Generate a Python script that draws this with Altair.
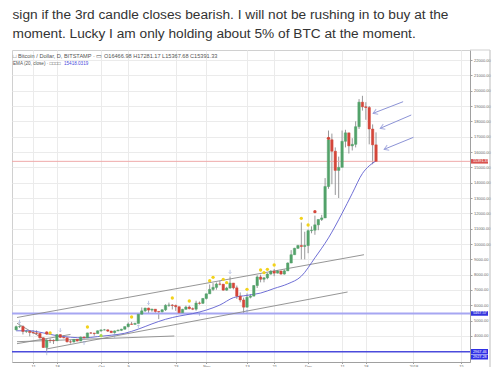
import altair as alt
import pandas as pd

# ---------------- text ----------------
tweet_lines = [
    "sign if the 3rd candle closes bearish. I will not be rushing in to buy at the",
    "moment. Lucky I am only holding about 5% of BTC at the moment.",
]
header_line = "\u25a1 Bitcoin / Dollar, D, BITSTAMP \u00b7 \u25ad  O16466.98  H17281.17  L15367.68  C15391.33"
ema_line = "EMA (20, close) \u00b7 \u25a1\u25a1\u25a1\u25a1"
ema_value_text = "15418.0319"

# ---------------- candles (Bitstamp daily) ----------------
opens_sep = [4400, 4610, 4620, 4300, 4310, 4230, 4200, 4170, 3880, 3250, 3720, 3700, 3690, 4090, 3910,
             3880, 3620, 3610, 3780, 3670, 3930, 3880, 4200, 4190, 4160]
highs_sep = [4680, 4690, 4700, 4380, 4330, 4380, 4370, 4180, 3920, 3800, 3840, 3780, 4120, 4120, 4050,
             3900, 3750, 3800, 3790, 3960, 3970, 4210, 4260, 4200, 4360]
lows_sep = [4380, 4520, 4100, 4200, 3980, 4150, 4070, 3830, 3220, 2972, 3540, 3480, 3690, 3860, 3850,
            3580, 3510, 3580, 3650, 3670, 3870, 3880, 4140, 4020, 4160]
closes_sep = [4610, 4620, 4300, 4310, 4230, 4200, 4170, 3880, 3250, 3720, 3700, 3690, 4090, 3910, 3880,
              3620, 3610, 3780, 3670, 3930, 3880, 4200, 4190, 4160, 4340]

opens_oct = [4340, 4400, 4400, 4320, 4220, 4330, 4370, 4440, 4610, 4780, 4760, 4820, 5420, 5640, 5820, 5690,
             5750, 5600, 5580, 5710, 6000, 6020, 5990, 5910, 5520, 5740, 5890, 5780, 5750, 6150, 6130]
highs_oct = [4410, 4460, 4430, 4340, 4360, 4430, 4470, 4620, 4880, 4920, 4870, 5430, 5860, 5840, 5850, 5780,
             5760, 5600, 5740, 6070, 6180, 6080, 6050, 5920, 5770, 5980, 5990, 5860, 6300, 6250, 6470]
lows_oct = [4270, 4370, 4260, 4190, 4160, 4320, 4320, 4430, 4560, 4730, 4740, 4820, 5400, 5570, 5450, 5580,
            5510, 5100, 5530, 5630, 5900, 5730, 5640, 5460, 5480, 5730, 5740, 5690, 5650, 6050, 6100]
closes_oct = [4400, 4400, 4320, 4220, 4330, 4370, 4440, 4610, 4780, 4760, 4820, 5420, 5640, 5820, 5690, 5750,
              5600, 5580, 5710, 6000, 6020, 5990, 5910, 5520, 5740, 5890, 5780, 5750, 6150, 6130, 6450]

opens_nov = [6450, 6750, 7040, 7170, 7390, 7380, 6990, 7130, 7450, 7140, 6600, 6350, 5880, 6530, 6600,
             7290, 7850, 7700, 7790, 8040, 8230, 8100, 8240, 8040, 8250, 8760, 9300, 9720, 9900, 9840]
highs_nov = [6770, 7360, 7450, 7490, 7600, 7390, 7210, 7880, 7460, 7290, 6840, 6500, 6780, 6720, 7320,
             7960, 8000, 7850, 8100, 8290, 8370, 8300, 8250, 8340, 8800, 9600, 9750, 9950, 11400, 10800]
lows_nov = [6380, 6750, 6930, 7020, 7300, 6960, 6950, 7080, 7040, 6420, 6200, 5500, 5850, 6450, 6600,
            7130, 7500, 7500, 7700, 8000, 7900, 8080, 8000, 8000, 8250, 8750, 9300, 9680, 9000, 9000]
closes_nov = [6750, 7040, 7170, 7390, 7380, 6990, 7130, 7450, 7140, 6600, 6350, 5880, 6530, 6600, 7290,
              7850, 7700, 7790, 8040, 8230, 8100, 8240, 8040, 8250, 8760, 9300, 9720, 9900, 9840, 9900]

opens_dec = [9900, 10870, 10900, 11250, 11600, 11700, 13750, 16800, 16050, 14800, 15000, 16700, 17250,
             16400, 16500, 17650, 19250, 18950, 18900, 17500, 16466.98]
highs_dec = [10950, 11150, 11850, 11600, 11900, 14300, 17400, 17200, 16300, 15700, 17400, 17450, 17250,
             16900, 18000, 19450, 19666, 19250, 19000, 17800, 17281.17]
lows_dec = [9400, 10700, 10600, 10900, 11500, 11700, 13600, 13900, 13200, 13000, 15000, 16300, 15900,
            16100, 16300, 17500, 18700, 18100, 16500, 15200, 15367.68]
closes_dec = [10870, 10900, 11250, 11600, 11700, 13750, 16800, 16050, 14800, 15000, 16700, 17250, 16400,
              16500, 17650, 19250, 18950, 18900, 17500, 16466.98, 15391.33]

dates = list(pd.date_range("2017-09-06", "2017-12-21", freq="D").strftime("%Y-%m-%d"))

# EMA(20) line
ema_dates = ["2017-09-06", "2017-09-10", "2017-09-14", "2017-09-18", "2017-09-22", "2017-09-26",
             "2017-09-30", "2017-10-04", "2017-10-08", "2017-10-12", "2017-10-16", "2017-10-20",
             "2017-10-24", "2017-10-28", "2017-11-01", "2017-11-05", "2017-11-09", "2017-11-13",
             "2017-11-17", "2017-11-21", "2017-11-25", "2017-11-29", "2017-12-03", "2017-12-07",
             "2017-12-11", "2017-12-14", "2017-12-17", "2017-12-19", "2017-12-21"]
ema_values = [4340, 4340, 4200, 4020, 3920, 3880, 3960, 4050, 4180, 4450, 4790, 5090, 5300, 5460, 5690,
              6020, 6500, 6650, 6800, 7100, 7400, 7900, 9100, 10400, 12000, 13300, 14600, 15100, 15418.03]

# horizontal price lines
hline_prices = [15391.33, 5467.57, 2967.46]
hline_colors = ["#efa9a9", "#a6a6f2", "#4b4bdc"]
hline_widths = [1, 2, 1.5]

# trend lines (start date, start price, end date, end price)
trend_x1 = ["2017-09-06T06:00:00Z", "2017-09-14T21:30:00Z", "2017-09-06T06:00:00Z",
            "2017-09-06T06:00:00Z", "2017-09-06T06:00:00Z"]
trend_p1 = [5207, 3152, 3628, 4830, 3500]
trend_x2 = ["2017-12-17T11:00:00Z", "2017-12-12T15:00:00Z", "2017-10-22T14:00:00Z",
            "2017-09-15T00:00:00Z", "2017-09-22T00:00:00Z"]
trend_p2 = [9302, 6870, 4000, 3700, 4100]

# signal dots
yellow_dates = ["2017-09-16", "2017-09-27", "2017-10-10", "2017-10-22", "2017-10-27", "2017-11-02",
                "2017-11-03", "2017-11-06", "2017-11-07", "2017-11-13", "2017-11-17", "2017-11-18",
                "2017-11-19", "2017-11-21", "2017-11-29", "2017-12-01"]
yellow_prices = [4196, 4587, 5239, 6478, 6283, 7607, 7828, 7698, 7476, 7046, 8304, 8128, 8350, 8630,
                 11676, 11239]
red_dates = ["2017-09-15", "2017-12-03", "2017-12-07"]
red_prices = [4196, 12109, 16894]
lime_dates = ["2017-10-01"]
lime_prices = [4020]

# small arrow markers
up_dates = ["2017-09-15", "2017-09-26", "2017-10-05", "2017-10-12", "2017-10-30", "2017-11-13"]
up_prices = [2872, 3543, 4000, 4607, 5435, 5585]
down_dates = ["2017-09-07", "2017-09-19", "2017-10-15", "2017-11-08"]
down_prices = [4933, 4391, 6172, 8193]

# three big arrows (tail -> tip)
arrow_tail_x = ["2017-12-28T23:30:00Z", "2017-12-31T09:00:00Z", "2018-01-01T01:00:00Z"]
arrow_tail_p = [19281, 18413, 16959]
arrow_tip_x = ["2017-12-20T03:20:00Z", "2017-12-22T05:50:00Z", "2017-12-23T09:20:00Z"]
arrow_tip_p = [18524, 17546, 16176]

axis_label_dates = ["2017-09-11", "2017-09-18", "2017-10-01", "2017-10-09", "2017-10-23", "2017-11-01",
                    "2017-11-13", "2017-11-21", "2017-12-01", "2017-12-11", "2017-12-18", "2018-01-01",
                    "2018-01-15"]
price_ticks = list(range(3000, 23000, 1000))

# ---------------- frames ----------------
candles = pd.DataFrame({
    "date": dates,
    "open": opens_sep + opens_oct + opens_nov + opens_dec,
    "high": highs_sep + highs_oct + highs_nov + highs_dec,
    "low": lows_sep + lows_oct + lows_nov + lows_dec,
    "close": closes_sep + closes_oct + closes_nov + closes_dec,
})
ema_df = pd.DataFrame({"date": ema_dates, "ema": ema_values})
hl_df = pd.DataFrame({"price": hline_prices, "color": hline_colors, "w": hline_widths})
trend_df = pd.DataFrame({"x1": trend_x1, "p1": trend_p1, "x2": trend_x2, "p2": trend_p2})
yellow_df = pd.DataFrame({"date": yellow_dates, "price": yellow_prices})
red_df = pd.DataFrame({"date": red_dates, "price": red_prices})
lime_df = pd.DataFrame({"date": lime_dates, "price": lime_prices})
up_df = pd.DataFrame({"date": up_dates, "price": up_prices})
down_df = pd.DataFrame({"date": down_dates, "price": down_prices})
arrow_df = pd.DataFrame({"x1": arrow_tail_x, "p1": arrow_tail_p, "x2": arrow_tip_x, "p2": arrow_tip_p})


def dt(s):
    y, m, d = s.split("-")
    return alt.DateTime(year=int(y), month=int(m), date=int(d), utc=True)


FONT = "Liberation Sans"
x_scale = alt.Scale(type="utc", domain=[alt.DateTime(year=2017, month=9, date=6, hours=6, utc=True),
                                        alt.DateTime(year=2018, month=1, date=16, hours=5, utc=True)])
y_scale = alt.Scale(domain=[2304, 22653], nice=False, zero=False)

x_axis = alt.Axis(
    values=[dt(s) for s in axis_label_dates], tickCount=200,
    labelExpr="utcdate(datum.value) == 1 ? (utcmonth(datum.value) == 0 ? utcFormat(datum.value, '%Y') : utcFormat(datum.value, '%b')) : utcFormat(datum.value, '%-d')",
    title=None, grid=True, gridColor="#ebebeb", gridWidth=1, domainColor="#a0a0a0", tickColor="#a0a0a0",
    tickSize=1.5, labelFontSize=4, labelColor="#666", labelPadding=0.5, labelFont=FONT, labelFlush=False,
    labelOverlap=False,
)
y_axis = alt.Axis(
    orient="right", values=price_ticks, tickCount=200,
    labelExpr="datum.value < 3500 ? '' : format(datum.value, '.2f')",
    title=None, grid=True, gridColor="#ebebeb", gridWidth=1, domainColor="#a0a0a0", tickColor="#a0a0a0",
    tickSize=2, labelFontSize=4, labelColor="#666", labelPadding=1.5, labelFont=FONT, labelOverlap=False,
)


def X(f):
    return alt.X(f, type="temporal", scale=x_scale, title=None)


def Y(f):
    return alt.Y(f, type="quantitative", scale=y_scale, title=None)


UP = "#53a26a"
DOWN = "#d4463a"

base_c = alt.Chart(candles)

wicks = base_c.mark_rule(color="#7d7d80", strokeWidth=0.8).encode(
    x=alt.X("date:T", scale=x_scale, axis=x_axis),
    y=alt.Y("low:Q", scale=y_scale, axis=y_axis),
    y2="high:Q",
)
bodies = base_c.mark_bar(size=2.4, strokeWidth=0.5).encode(
    x=X("date"), y=Y("open"), y2="close",
    color=alt.condition("datum.close >= datum.open", alt.value(UP), alt.value(DOWN)),
    stroke=alt.condition("datum.close >= datum.open", alt.value(UP), alt.value(DOWN)),
)

hlines = alt.Chart(hl_df).mark_rule().encode(
    y=Y("price"), color=alt.Color("color:N", scale=None), strokeWidth=alt.StrokeWidth("w:Q", scale=None),
)

trends = alt.Chart(trend_df).mark_rule(color="#8a8a8a", strokeWidth=0.9).encode(
    x=X("x1"), x2="x2", y=Y("p1"), y2="p2",
)

ema = alt.Chart(ema_df).mark_line(color="#5f5fd0", strokeWidth=0.9, interpolate="monotone").encode(
    x=X("date"), y=Y("ema"),
)

yellow = alt.Chart(yellow_df).mark_circle(color="#f2d21b", opacity=1, size=11).encode(x=X("date"), y=Y("price"))
red = alt.Chart(red_df).mark_circle(color="#d4463a", opacity=1, size=11).encode(x=X("date"), y=Y("price"))
lime = alt.Chart(lime_df).mark_circle(color="#a8d84a", opacity=1, size=11).encode(x=X("date"), y=Y("price"))

UP_ARROW = "M 0 1 L 0 -1 M -0.7 -0.3 L 0 -1 L 0.7 -0.3"
DOWN_ARROW = "M 0 -1 L 0 1 M -0.7 0.3 L 0 1 L 0.7 0.3"
ups = alt.Chart(up_df).mark_point(shape=UP_ARROW, filled=False, color="#8a9bd0", size=14, strokeWidth=0.8).encode(
    x=X("date"), y=Y("price"))
downs = alt.Chart(down_df).mark_point(shape=DOWN_ARROW, filled=False, color="#8a9bd0", size=14, strokeWidth=0.8).encode(
    x=X("date"), y=Y("price"))

arrow_lines = alt.Chart(arrow_df).mark_rule(color="#8c93d6", strokeWidth=1).encode(
    x=X("x1"), x2="x2", y=Y("p1"), y2="p2",
)
arrow_heads = alt.Chart(arrow_df).mark_point(
    shape="M -1 1.6 L 0 0 L 1 1.6", filled=False, color="#8c93d6", size=30, strokeWidth=1, angle=248,
).encode(x=X("x2"), y=Y("p2"))

# price label boxes on the right scale
lab_df = pd.DataFrame({"price": [15391.33, 5467.57], "text": ["15391.33", "5467.57"],
                       "color": ["#d9534f", "#3333dd"]})
lab_boxes = alt.Chart(lab_df).mark_rule(strokeWidth=4.5).encode(
    x=alt.value(459), x2=alt.value(476), y=Y("price"), color=alt.Color("color:N", scale=None))
lab_text = alt.Chart(lab_df).mark_text(align="left", baseline="middle", fontSize=3.8, color="white", font=FONT).encode(
    x=alt.value(461), y=Y("price"), text="text:N")

low_labels = pd.DataFrame({"text": ["2967.46", "2927.28"], "row": [0, 1]})
low_box1 = alt.Chart(low_labels).transform_filter("datum.row == 0").mark_rule(strokeWidth=5, color="#2f2fe6").encode(
    x=alt.value(459), x2=alt.value(476), y=alt.value(301.5))
low_box2 = alt.Chart(low_labels).transform_filter("datum.row == 1").mark_rule(strokeWidth=5, color="#2f2fe6").encode(
    x=alt.value(459), x2=alt.value(476), y=alt.value(307))
low_txt1 = alt.Chart(low_labels).transform_filter("datum.row == 0").mark_text(
    align="left", baseline="middle", fontSize=3.8, color="white", font=FONT).encode(
    x=alt.value(461), y=alt.value(301.5), text="text:N")
low_txt2 = alt.Chart(low_labels).transform_filter("datum.row == 1").mark_text(
    align="left", baseline="middle", fontSize=3.8, color="white", font=FONT).encode(
    x=alt.value(461), y=alt.value(307), text="text:N")

# frames around the chart picture
frame_df = pd.DataFrame({"k": [0]})
outer_right = alt.Chart(frame_df).mark_rule(color="#bdbdbd", strokeWidth=1).encode(
    x=alt.value(478), y=alt.value(0), y2=alt.value(317))
top_right = alt.Chart(frame_df).mark_rule(color="#d0d0d0", strokeWidth=1).encode(
    x=alt.value(458), x2=alt.value(478), y=alt.value(0))

# header texts inside the chart
hdr_df = pd.DataFrame({"t": [header_line]})
hdr = alt.Chart(hdr_df).mark_text(align="left", baseline="middle", fontSize=5.6, color="#555", font=FONT).encode(
    x=alt.value(1), y=alt.value(6), text="t:N")
ema_df2 = pd.DataFrame({"t": [ema_line], "v": [ema_value_text]})
ema_hdr = alt.Chart(ema_df2).mark_text(align="left", baseline="middle", fontSize=4.6, color="#555", font=FONT).encode(
    x=alt.value(1), y=alt.value(14), text="t:N")
ema_val = alt.Chart(ema_df2).mark_text(align="left", baseline="middle", fontSize=4.6, color="#4b4bdc", font=FONT).encode(
    x=alt.value(52), y=alt.value(14), text="v:N")

# tweet text above the chart
tw_df = pd.DataFrame({"t": tweet_lines, "row": [0, 1]})
tw1 = alt.Chart(tw_df).transform_filter("datum.row == 0").mark_text(
    align="left", baseline="alphabetic", fontSize=13.7, color="#333333", font=FONT).encode(
    x=alt.value(0.5), y=alt.value(-31.0), text="t:N")
tw2 = alt.Chart(tw_df).transform_filter("datum.row == 1").mark_text(
    align="left", baseline="alphabetic", fontSize=13.7, color="#333333", font=FONT).encode(
    x=alt.value(0.5), y=alt.value(-12.4), text="t:N")

chart = alt.layer(
    wicks, hlines, trends, ema, bodies, yellow, red, lime, ups, downs,
    arrow_lines, arrow_heads, lab_boxes, lab_text, low_box1, low_box2, low_txt1, low_txt2,
    outer_right, top_right, hdr, ema_hdr, ema_val, tw1, tw2,
).properties(
    width=458, height=312,
    padding={"left": 4, "top": 42, "right": 25, "bottom": 5},
    autosize=alt.AutoSizeParams(type="none"),
    background="white",
).configure_view(stroke="#d0d0d0", strokeWidth=1)

chart.save("out.html", embed_options={"renderer": "svg", "actions": False})
